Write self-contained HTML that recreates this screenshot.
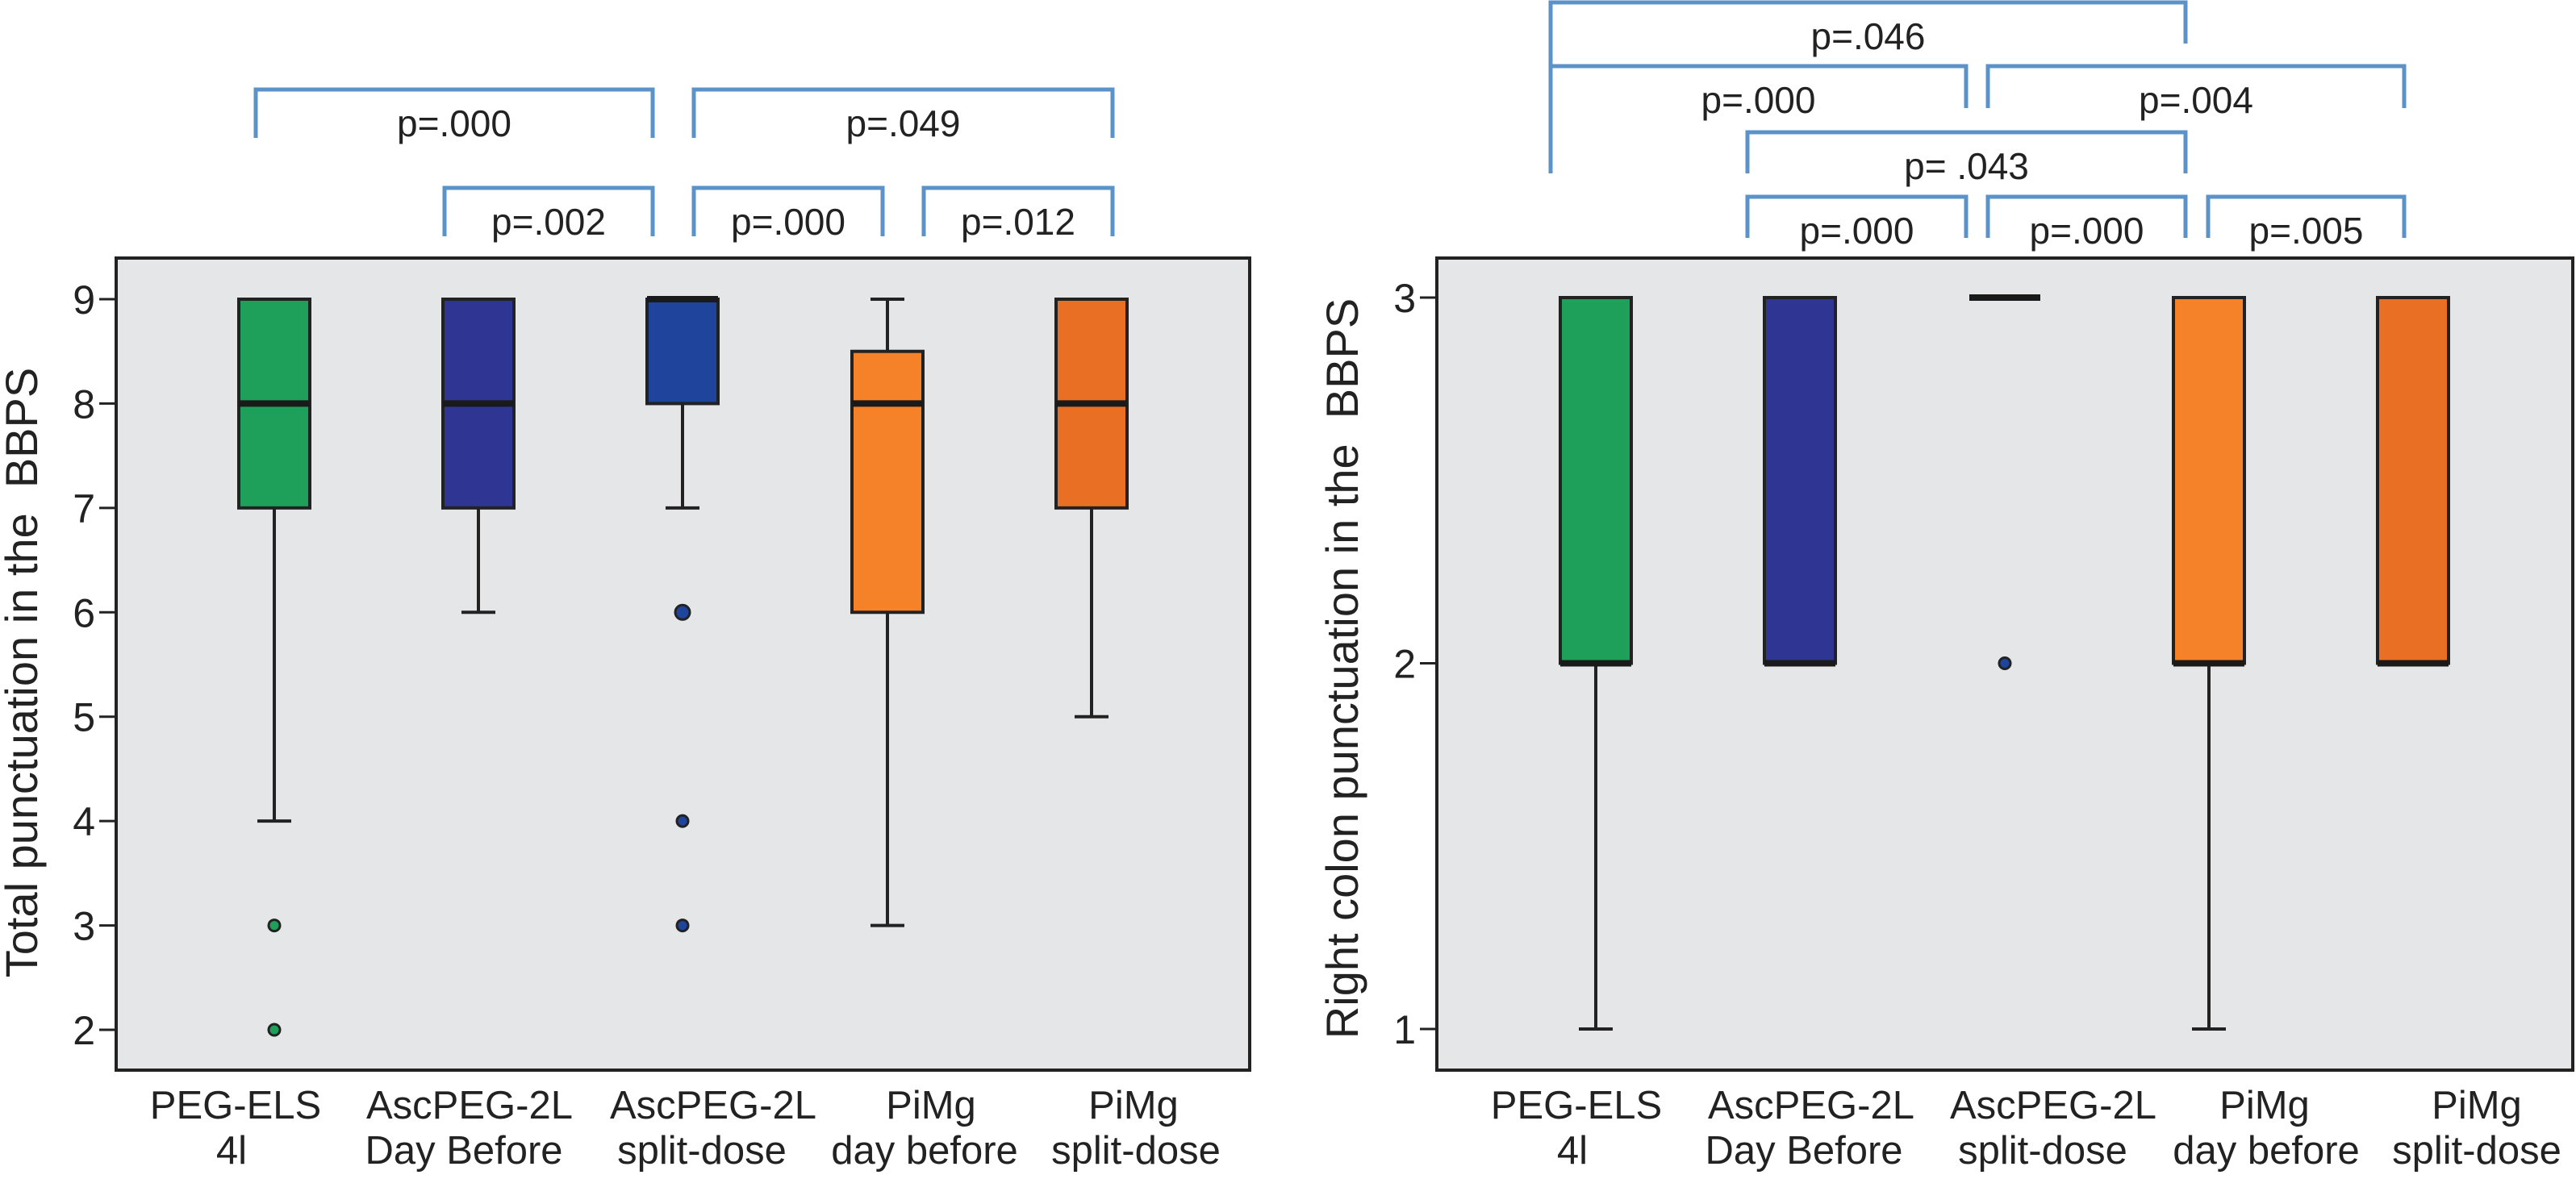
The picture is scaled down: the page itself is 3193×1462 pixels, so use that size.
<!DOCTYPE html>
<html><head><meta charset="utf-8"><style>
html,body{margin:0;padding:0;background:#fff;}
svg{display:block;font-family:"Liberation Sans",Arial,sans-serif;}
</style></head><body>
<svg id="c" width="3193" height="1462" viewBox="0 0 3193 1462"></svg>
<script>
const categories = ["PEG-ELS|4l","AscPEG-2L|Day Before","AscPEG-2L|split-dose","PiMg|day before","PiMg|split-dose"];
const colors = ["#1fa05a","#2e3593","#1f449b","#f58229","#e96f24"];
// left chart: [whiskerLow, q1, median, q3, whiskerHigh]
const leftStats = [[4,7,8,9,9],[6,7,8,9,9],[7,8,9,9,9],[3,6,8,8.5,9],[5,7,8,9,9]];
const leftOutliers = [[3,2],[],[6,4,3],[],[]];
const leftTicks = [2,3,4,5,6,7,8,9];
const rightStats = [[1,2,2,3,3],[2,2,2,3,3],[3,3,3,3,3],[1,2,2,3,3],[2,2,2,3,3]];
const rightOutliers = [[],[],[2],[],[]];
const rightTicks = [1,2,3];
const leftBrackets = [["p=.000",0,2,111,171,171],["p=.049",2,4,111,171,171],["p=.002",1,2,233,293,293],["p=.000",2,3,233,293,293],["p=.012",3,4,233,293,293]];
const rightBrackets = [["p=.046",0,3,3,215,54],["p=.000",0,2,82,215,134],["p=.004",2,4,82,134,134],["p= .043",1,3,164,215,215],["p=.000",1,2,244,295,295],["p=.000",2,3,244,295,295],["p=.005",3,4,244,295,295]];

const NS="http://www.w3.org/2000/svg";
const svg=document.getElementById('c');
function mk(tag,attrs,parent){const e=document.createElementNS(NS,tag);for(const k in attrs)e.setAttribute(k,attrs[k]);(parent||svg).appendChild(e);return e;}

function chart(cfg){
  const g=mk('g',{});
  
  
  const y=v=>cfg.y0+(v-cfg.v0)*(cfg.y1-cfg.y0)/(cfg.v1-cfg.v0);
  const bg=mk('rect',{x:cfg.bx0,y:cfg.by0,width:cfg.bx1-cfg.bx0,height:cfg.by1-cfg.by0,fill:"#e5e6e8",stroke:"#222","stroke-width":4},g);
  
  
  cfg.ticks.forEach(t=>{
    const l=mk('line',{x1:cfg.bx0-21,x2:cfg.bx0,y1:y(t),y2:y(t),stroke:"#222","stroke-width":3},g);
    
    
    const tx=mk('text',{x:cfg.bx0-26,y:y(t)+18,"font-size":50,"text-anchor":"end",fill:"#222"},g);
    tx.textContent=t;
    
    
  });
  const yt=mk('text',{transform:`translate(${cfg.titleX},${cfg.titleY}) rotate(-90)`,"font-size":56,"text-anchor":"middle",fill:"#222"},g);
  yt.textContent=cfg.title;
  
  
  const hw=cfg.hw;
  cfg.stats.forEach((s,i)=>{
    const cx=cfg.cx[i];
    const bg2=mk('g',{},g);
    
    
    if(s[0]<s[1]){mk('line',{x1:cx,x2:cx,y1:y(s[0]),y2:y(s[1]),stroke:"#222","stroke-width":4},bg2);mk('line',{x1:cx-21,x2:cx+21,y1:y(s[0]),y2:y(s[0]),stroke:"#222","stroke-width":4},bg2);}
    if(s[4]>s[3]){mk('line',{x1:cx,x2:cx,y1:y(s[4]),y2:y(s[3]),stroke:"#222","stroke-width":4},bg2);mk('line',{x1:cx-21,x2:cx+21,y1:y(s[4]),y2:y(s[4]),stroke:"#222","stroke-width":4},bg2);}
    if(s[3]>s[1]) mk('rect',{x:cx-hw,y:y(s[3]),width:2*hw,height:y(s[1])-y(s[3]),fill:colors[i],stroke:"#222","stroke-width":4},bg2);
    mk('line',{x1:cx-hw,x2:cx+hw,y1:y(s[2]),y2:y(s[2]),stroke:"#1a1a1a","stroke-width":8},bg2);
    cfg.out[i].forEach((o,j)=>{
      const c=mk('circle',{cx:cx,cy:y(o),r:(cfg.bigOut&&i==2&&j==0)?9:7,fill:colors[i],stroke:"#222","stroke-width":3},g);
      
      
    });
  });
  categories.forEach((c,i)=>{
    const p=c.split('|');
    const t1=mk('text',{x:cfg.l1[i],y:1387,"font-size":49,"text-anchor":"middle",fill:"#222"},g);
    t1.textContent=p[0];
    
    
    const t2=mk('text',{x:cfg.l2[i],y:1443,"font-size":49,"text-anchor":"middle",fill:"#222"},g);
    t2.textContent=p[1];
    
    
  });
  cfg.br.forEach(b=>{
    const x1=cfg.bk[b[1]][0], x2=cfg.bk[b[2]][1];
    const p=mk('path',{d:`M${x1},${b[4]} V${b[3]} H${x2} V${b[5]}`,fill:"none",stroke:"#5b93c9","stroke-width":5},g);
    
    
    const t=mk('text',{x:(x1+x2)/2,y:b[3]+58,"font-size":46,"text-anchor":"middle",fill:"#222"},g);
    t.textContent=b[0];
    
    
  });
}
chart({name:'left-chart',bx0:144,bx1:1549,by0:320,by1:1327,v0:9,v1:2,y0:371,y1:1277,ticks:leftTicks,stats:leftStats,out:leftOutliers,hw:44,bigOut:true,
  cx:[340,593,846,1100,1353],title:"Total punctuation in the\u00a0 BBPS",titleX:46,titleY:834,
  l1:[292,582,884,1154,1405],l2:[287,575,870,1146,1408],br:leftBrackets,
  bk:[[317,317],[551,551],[860,809],[1145,1094],[1379,1379]]});
chart({name:'right-chart',bx0:1781,bx1:3189,by0:320,by1:1327,v0:3,v1:1,y0:369,y1:1276,ticks:rightTicks,stats:rightStats,out:rightOutliers,hw:44,bigOut:false,
  cx:[1978,2231,2485,2738,2991],title:"Right colon punctuation in the\u00a0 BBPS",titleX:1683,titleY:829,
  l1:[1954,2245,2545,2807,3070],l2:[1949,2236,2532,2809,3070],br:rightBrackets,
  bk:[[1922,1922],[2166,2193],[2464,2437],[2737,2709],[2980,2980]]});
</script>
</body></html>
